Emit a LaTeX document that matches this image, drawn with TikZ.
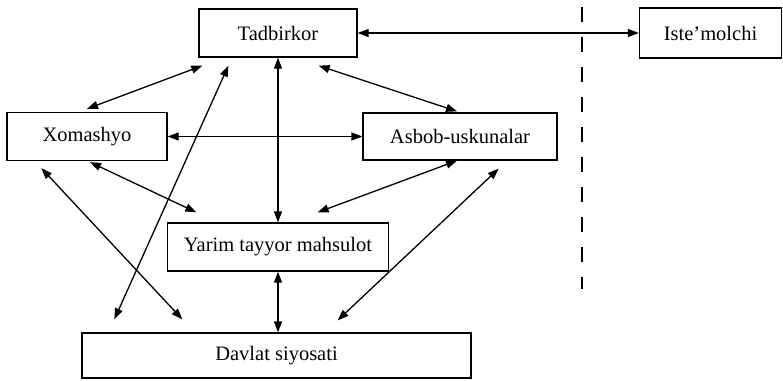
\documentclass[tikz,border=0pt]{standalone}
\usepackage{fontspec}
\setmainfont{Liberation Serif}
\usetikzlibrary{arrows.meta}
\begin{document}
\begin{tikzpicture}[x=1pt,y=-1pt,
  box/.style={draw,line width=1.3pt,inner sep=0pt,font=\fontsize{20.5}{24}\selectfont},
  link/.style={line width=1.3pt,{Triangle[length=11pt,width=8pt]}-{Triangle[length=11pt,width=8pt]}}]
\useasboundingbox (0,0) rectangle (783,380);
\node[box,minimum width=158pt,minimum height=48pt] (T) at (278,33) {Tadbirkor};
\node[box,minimum width=142pt,minimum height=50pt] (I) at (710.5,33) {Iste’molchi};
\node[box,minimum width=160pt,minimum height=48pt] (X) at (87,136.5) {Xomashyo};
\node[box,minimum width=194pt,minimum height=47pt] (A) at (460,136.5) {Asbob-uskunalar};
\node[box,minimum width=221pt,minimum height=48pt] (Y) at (278,247) {Yarim tayyor mahsulot};
\node[box,minimum width=389pt,minimum height=45pt] (D) at (276.5,355.5) {Davlat siyosati};
\coordinate (dtop) at (582,7);
\coordinate (dbot) at (582,289);
\draw[line width=1.3pt,dash pattern=on 15pt off 15pt] (dtop) -- (dbot);
\draw[link] (T.east) -- (I.west);
\draw[link] ([yshift=3pt]X.north) -- ([xshift=4pt,yshift=-8pt]T.south west);
\draw[link] ([xshift=30pt,yshift=-8pt]T.south west) -- ([xshift=33pt,yshift=13pt]D.north west);
\draw[link] (T.south) -- (Y.north);
\draw[link] ([xshift=-39pt,yshift=-8pt]T.south east) -- ([xshift=-3pt,yshift=1pt]A.north);
\draw[link] (X.east) -- (A.west);
\draw[link] ([xshift=3pt,yshift=-1pt]X.south) -- ([xshift=29.5pt,yshift=10pt]Y.north west);
\draw[link] ([xshift=35pt,yshift=-7pt]X.south west) -- ([xshift=101pt,yshift=13pt]D.north west);
\draw[link] ([xshift=-3pt]A.south) -- ([xshift=-71.5pt,yshift=10pt]Y.north east);
\draw[link] ([xshift=-59pt,yshift=-8pt]A.south east) -- ([xshift=-134pt,yshift=12pt]D.north east);
\draw[link] (Y.south) -- (Y.south |- D.north);
\end{tikzpicture}
\end{document}
